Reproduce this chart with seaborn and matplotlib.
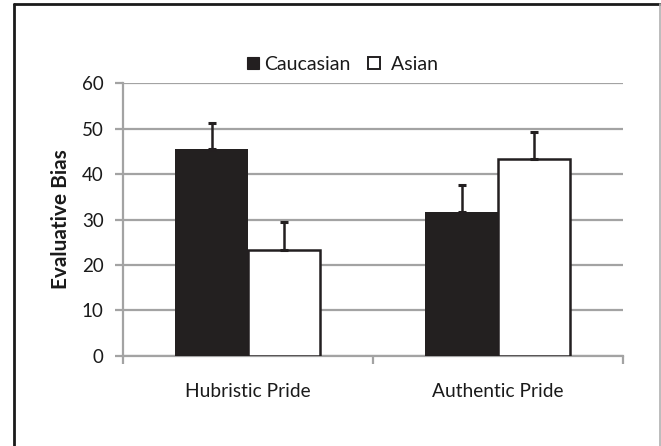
import matplotlib
matplotlib.use("Agg")
import matplotlib.pyplot as plt
from matplotlib.patches import Patch
from matplotlib.lines import Line2D
import seaborn as sns
import pandas as pd

# Mean evaluative bias and upper error (SE) by pride type and participant group
conditions = ["Hubristic Pride", "Authentic Pride"]
groups = ["Caucasian", "Asian"]
caucasian_means = [45.5, 31.6]
asian_means = [23.3, 43.3]
caucasian_err = [5.7, 6.0]
asian_err = [6.2, 6.0]
y_ticks = [0, 10, 20, 30, 40, 50, 60]

df = pd.DataFrame({
    "condition": conditions * 2,
    "group": [groups[0]] * 2 + [groups[1]] * 2,
    "bias": caucasian_means + asian_means,
    "err": caucasian_err + asian_err,
})

sns.set_theme(style="white")
plt.rcParams["font.family"] = ["Lato", "DejaVu Sans"]

dark = "#231f20"
grid_grey = "#a3a3a3"
text_col = "#1a1a1a"

fig = plt.figure(figsize=(6.61, 4.46), dpi=100)
ax = fig.add_axes([0.186, 0.2025, 0.7565, 0.6105])

sns.barplot(
    data=df, x="condition", y="bias", hue="group",
    order=conditions, hue_order=groups,
    palette={"Caucasian": dark, "Asian": "white"},
    width=0.58, errorbar=None, legend=False, ax=ax, zorder=3,
)

# Outline the white bars, keep the dark ones flat
for bar, grp in zip(ax.patches, [groups[0]] * 2 + [groups[1]] * 2):
    bar.set_edgecolor(dark)
    bar.set_linewidth(1.8 if grp == "Asian" else 0.0)

# Upper-only error bars at each bar centre
for bar, (_, row) in zip(ax.patches, df.iterrows()):
    cx = bar.get_x() + bar.get_width() / 2
    ax.errorbar(cx, row["bias"], yerr=[[0], [row["err"]]], fmt="none",
                ecolor=dark, elinewidth=1.8, capsize=3, capthick=2.2, zorder=4)

ax.set_ylim(0, 60)
ax.set_xlim(-0.5, 1.5)
ax.set_yticks(y_ticks)
ax.yaxis.grid(True, color=grid_grey, linewidth=1.6, zorder=0)
ax.set_axisbelow(True)

for side in ["top", "right"]:
    ax.spines[side].set_visible(False)
for side in ["left", "bottom"]:
    ax.spines[side].set_color(grid_grey)
    ax.spines[side].set_linewidth(1.6)

ax.tick_params(axis="y", which="major", left=True, length=6, width=1.6,
               color=grid_grey, labelsize=13.5, labelcolor=text_col, pad=8)
ax.tick_params(axis="x", which="major", bottom=False, labelsize=13.8,
               labelcolor=text_col, pad=14)
ax.set_xticks([-0.5, 0.5, 1.5], minor=True)
ax.tick_params(axis="x", which="minor", bottom=True, length=6, width=1.6,
               color=grid_grey)

ax.set_xlabel("")
ax.set_ylabel("Evaluative Bias", fontsize=15, fontweight="bold",
              color=text_col, labelpad=8)

handles = [
    Patch(facecolor=dark, edgecolor=dark, linewidth=0.8, label="Caucasian"),
    Patch(facecolor="white", edgecolor=dark, linewidth=1.4, label=" Asian"),
]
fig.legend(handles=handles, loc="center", bbox_to_anchor=(0.518, 0.855),
           ncol=2, frameon=False, fontsize=14, handlelength=0.6,
           handleheight=0.6, handletextpad=0.3, columnspacing=0.9,
           labelcolor=text_col)

# Frame around the figure panel
fig.add_artist(Line2D([14 / 661, 14 / 661], [0, 1 - 4 / 446],
                      transform=fig.transFigure, color=text_col, linewidth=2))
fig.add_artist(Line2D([14 / 661, 1], [1 - 4 / 446, 1 - 4 / 446],
                      transform=fig.transFigure, color=text_col, linewidth=2))
fig.add_artist(Line2D([659.5 / 661, 659.5 / 661], [0, 1 - 4 / 446],
                      transform=fig.transFigure, color="#b0b0b0", linewidth=1.2))

fig.savefig("out.png", dpi=100)
